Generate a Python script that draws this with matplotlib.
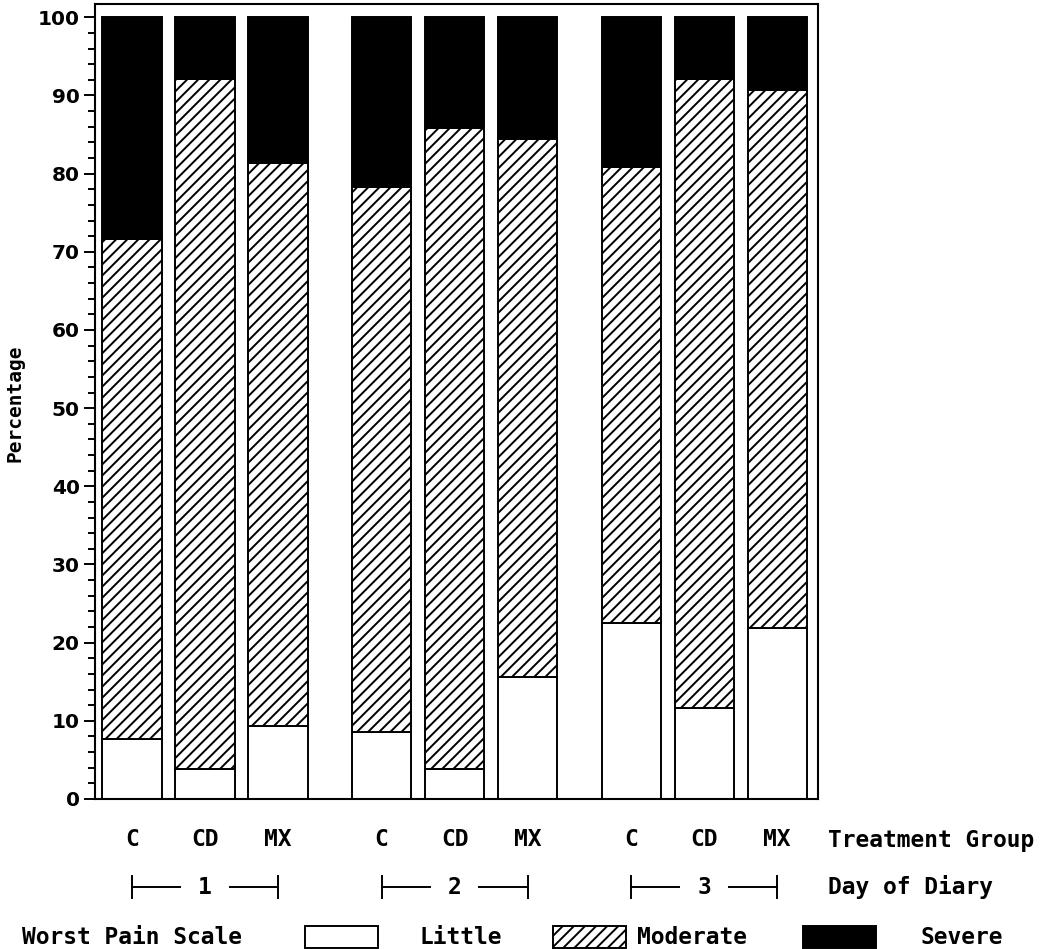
import numpy as np
import matplotlib.pyplot as plt
from matplotlib.patches import Rectangle
from matplotlib.transforms import blended_transform_factory

# data (percent of patients per worst-pain level)
days = ["1", "2", "3"]
groups = ["C", "CD", "MX"]
little = [7.7, 3.8, 9.3, 8.6, 3.8, 15.6, 22.5, 11.6, 21.9]
moderate = [63.9, 88.3, 72.0, 69.7, 82.1, 68.8, 58.3, 80.5, 68.8]
severe = [28.4, 7.9, 18.7, 21.7, 14.1, 15.6, 19.2, 7.9, 9.3]
levels = ["Little", "Moderate", "Severe"]

plt.rcParams["hatch.linewidth"] = 1.4
mono = "DejaVu Sans Mono"

fig = plt.figure(figsize=(10.5, 9.49), dpi=100)
ax = fig.add_axes([95 / 1050, 1 - 799 / 949, (818 - 95) / 1050, (799 - 4) / 949])

gap = 3.42
x = np.array([g * gap + i for g in range(len(days)) for i in range(len(groups))])
width = 0.81
little = np.array(little)
moderate = np.array(moderate)
severe = np.array(severe)

ax.bar(x, little, width, color="white", edgecolor="black", linewidth=1.4)
ax.bar(x, moderate, width, bottom=little, color="white", edgecolor="black",
       hatch="///", linewidth=1.4)
ax.bar(x, severe, width, bottom=little + moderate, color="black",
       edgecolor="black", linewidth=1.4)

ax.set_xlim(-0.507, 9.40)
ax.set_ylim(0, 101.7)
ax.set_xticks([])
ax.set_yticks(range(0, 101, 10))
ax.set_yticks(range(0, 101, 2), minor=True)
ax.tick_params(axis="y", which="major", length=8, width=1.4, labelsize=14.5, pad=3)
ax.tick_params(axis="y", which="minor", length=5, width=1.4)
for lab in ax.get_yticklabels():
    lab.set_fontweight("bold")
for sp in ax.spines.values():
    sp.set_linewidth(1.5)

fig.text(15 / 1050, 1 - 403 / 949, "Percentage", rotation=90, ha="center",
         va="center", family=mono, fontweight="bold", fontsize=14)

# category rows under the axes
tr = blended_transform_factory(ax.transData, fig.transFigure)
y_grp = 1 - 840 / 949
y_day = 1 - 887 / 949
txt = dict(family=mono, fontweight="bold", fontsize=16.5, va="center")
for xi, g in zip(x, groups * len(days)):
    ax.text(xi, y_grp, g, transform=tr, ha="center", clip_on=False, **txt)
fig.text(828 / 1050, y_grp, "Treatment Group", ha="left", **txt)

half_gap = 0.34
cap = 0.012
for d, day in enumerate(days):
    x0 = x[d * 3]
    x1 = x[d * 3 + 2]
    xm = (x0 + x1) / 2
    ax.plot([x0, xm - half_gap], [y_day, y_day], color="black", lw=1.4,
            transform=tr, clip_on=False)
    ax.plot([xm + half_gap, x1], [y_day, y_day], color="black", lw=1.4,
            transform=tr, clip_on=False)
    for xc in (x0, x1):
        ax.plot([xc, xc], [y_day - cap, y_day + cap], color="black", lw=1.4,
                transform=tr, clip_on=False)
    ax.text(xm, y_day, day, transform=tr, ha="center", clip_on=False, **txt)
fig.text(828 / 1050, y_day, "Day of Diary", ha="left", **txt)

# legend row
y_leg = 1 - 937 / 949
fig.text(22 / 1050, y_leg, "Worst Pain Scale", ha="left", **txt)
box_left = [305, 553, 803]
label_center = [461, 692, 962]
styles = [dict(facecolor="white", hatch=None),
          dict(facecolor="white", hatch="///"),
          dict(facecolor="black", hatch=None)]
for bl, lc, name, st in zip(box_left, label_center, levels, styles):
    r = Rectangle((bl / 1050, 1 - 948 / 949), 73 / 1050, 22 / 949,
                  transform=fig.transFigure, edgecolor="black", linewidth=1.4,
                  **st)
    fig.add_artist(r)
    fig.text(lc / 1050, y_leg, name, ha="center", **txt)

fig.savefig("out.png", dpi=100)
